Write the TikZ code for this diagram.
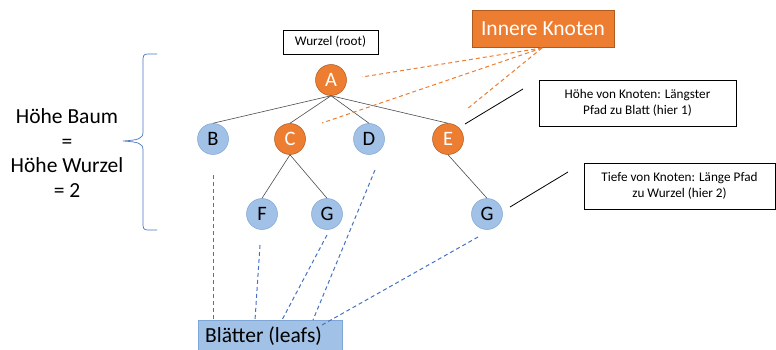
\documentclass[tikz,border=0pt]{standalone}
\usepackage{fontspec}
\setmainfont{Carlito}
\usetikzlibrary{decorations.pathreplacing}
\definecolor{orng}{HTML}{ED7D31}
\definecolor{orngd}{HTML}{AE5A21}
\definecolor{lblue}{HTML}{A2C1E6}
\definecolor{bblue}{HTML}{7EA6D6}
\definecolor{dblue}{HTML}{4472C4}
\definecolor{brc}{HTML}{4A78C0}
\begin{document}
\begin{tikzpicture}[x=1pt,y=-1pt,
  inner/.style={circle,fill=orng,draw=orngd,line width=0.5pt,minimum size=31pt,inner sep=0pt,text=white,font=\fontsize{20.5}{22}\selectfont},
  leaf/.style={circle,fill=lblue,draw=bblue,line width=0.5pt,minimum size=31pt,inner sep=0pt,text=black,font=\fontsize{20.5}{22}\selectfont},
  edge/.style={draw=black!70,line width=0.6pt},
  odash/.style={draw=orng,line width=1pt,dash pattern=on 4pt off 3pt},
  bdash/.style={draw=dblue,line width=1pt,dash pattern=on 4pt off 3pt},
  note/.style={draw=black,line width=0.8pt,fill=white,align=center,font=\fontsize{13.2}{16}\selectfont,inner sep=0pt},
  pointer/.style={draw=black,line width=0.8pt}]
\useasboundingbox (0,0) rectangle (776,350);
% tree nodes
\node[inner] (A) at (331,80) {A};
\node[leaf] (B) at (213,139) {B};
\node[inner] (C) at (290,139) {C};
\node[leaf] (D) at (369,139) {D};
\node[inner] (E) at (448,139) {E};
\node[leaf] (F) at (262,214) {F};
\node[leaf] (G1) at (327,214) {G};
\node[leaf] (G2) at (487,214) {G};
% edges
\draw[edge] (A.south) -- (B.north);
\draw[edge] (A.south) -- (C.north);
\draw[edge] (A.south) -- (D.north);
\draw[edge] (A.south) -- (E.north);
\draw[edge] (C.south) -- (F.north);
\draw[edge] (C.south) -- (G1.north);
\draw[edge] (E.south) -- (G2.north);
% label boxes
\node[note,minimum width=95pt,minimum height=24pt] (root) at (330.5,42) {Wurzel (root)};
\node[fill=orng,draw=orngd,line width=0.8pt,text=white,minimum width=142pt,minimum height=37pt,inner sep=0pt,font=\fontsize{21.5}{24}\selectfont] (IK) at (543,28.5) {Innere Knoten};
\node[note,minimum width=197pt,minimum height=46pt] (hoehe) at (637.5,103) {Höhe von Knoten: Längster\\Pfad zu Blatt (hier 1)};
\node[note,minimum width=191pt,minimum height=46pt] (tiefe) at (679.5,186) {Tiefe von Knoten: Länge Pfad\\zu Wurzel (hier 2)};
\node[fill=lblue,draw=bblue,line width=0.8pt,minimum width=144pt,minimum height=34pt,anchor=north west] (leafs) at (198,320) {};
\node[anchor=west,inner sep=0pt,text=black,font=\fontsize{21.5}{24}\selectfont] (leafstxt) at (205,336) {Blätter (leafs)};
% orange dashed pointers
\coordinate (ik) at (542,48);
\coordinate (pa) at (362,77);
\coordinate (pc) at (322,123);
\coordinate (pe) at (467,109);
\draw[odash] (ik) -- (pa);
\draw[odash] (ik) -- (pc);
\draw[odash] (ik) -- (pe);
% black pointers
\coordinate (h1) at (465,124);
\coordinate (h2) at (523,89);
\draw[pointer] (h1) -- (h2);
\coordinate (t1) at (510,207);
\coordinate (t2) at (568,172);
\draw[pointer] (t1) -- (t2);
% blue dashed pointers
\coordinate (lb) at (213.5,175);
\coordinate (lf) at (260,245);
\coordinate (lg) at (327,235);
\coordinate (ld) at (375,170);
\coordinate (lg2) at (478,237);
\draw[bdash] (lb) -- (leafs.north west -| lb);
\draw[bdash] (lf) -- (255,320);
\draw[bdash] (lg) -- (282,320);
\draw[bdash] (ld) -- (313,320);
\draw[bdash] (lg2) -- (322,325);
% brace
\draw[draw=brc,line width=0.7pt] (157,54) -- (148,54) .. controls (143,54) and (143,56) .. (143,62) -- (143,132) .. controls (143,139) and (138,140) .. (123,141) .. controls (138,142) and (143,143) .. (143,150) -- (143,222) .. controls (143,228) and (143,230) .. (148,230) -- (157,230);
% left text
\node[align=center,font=\fontsize{21.5}{24.5}\selectfont,inner sep=0pt] (hb) at (67,153) {Höhe Baum\\=\\Höhe Wurzel\\= 2};
\end{tikzpicture}
\end{document}
